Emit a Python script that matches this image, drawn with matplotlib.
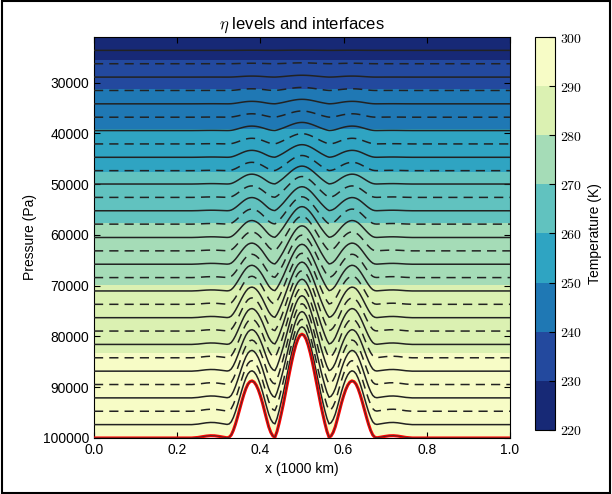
import matplotlib
matplotlib.use("Agg")
import matplotlib.pyplot as plt
import numpy as np
from matplotlib.patches import Rectangle

plt.rcParams['font.family'] = ['Liberation Sans', 'DejaVu Sans']
plt.rcParams['mathtext.fontset'] = 'cm'

# model top / surface pressure (Pa)
p_top = 21000.0
p0 = 100000.0

# terrain: distance from mountain centre (x=0.5) and pressure drop below p0
d_half = [0.000, 0.005, 0.010, 0.015, 0.020, 0.025, 0.030, 0.035, 0.040, 0.045,
          0.050, 0.055, 0.060, 0.065, 0.070, 0.075, 0.080, 0.085, 0.090, 0.095,
          0.100, 0.105, 0.110, 0.115, 0.120, 0.125, 0.130, 0.135, 0.140, 0.145,
          0.150, 0.155, 0.160, 0.165, 0.170, 0.175, 0.180, 0.190, 0.200, 0.210,
          0.220, 0.230, 0.240, 0.250, 0.265]
drop = [20450, 20200, 19450, 18250, 16700, 14900, 12900, 10800, 8700, 6600,
        4700, 2900, 1300, 150, 400, 1100, 2200, 3700, 5300, 6900,
        8300, 9500, 10400, 11000, 11250, 11100, 10600, 9700, 8500, 7100,
        5600, 4100, 2700, 1500, 600, 150, 40, 180, 320, 430,
        450, 380, 250, 110, 0]

# terrain-following weight of each half level (top -> bottom), 31 half levels
b_coef = [0.0, 0.0026, 0.0087, 0.0178, 0.0294, 0.0434, 0.0598, 0.0784, 0.0990, 0.1216,
          0.1462, 0.1728, 0.2012, 0.2315, 0.2635, 0.2973, 0.3329, 0.3701, 0.4091, 0.4496,
          0.4918, 0.5357, 0.5811, 0.6282, 0.6767, 0.7268, 0.7784, 0.8316, 0.8862, 0.9424,
          1.0]

# temperature bands: pressure where each band edge sits
temp_p = [21000, 25580, 31160, 39050, 47530, 57590, 69820, 83235, 100000]
temp_T = [226, 230, 240, 250, 260, 270, 280, 290, 297]
t_levels = [220, 230, 240, 250, 260, 270, 280, 290, 300]

d = np.array(d_half)
dp = np.array(drop, dtype=float)
x = np.concatenate([[0.0], 0.5 - d[::-1], 0.5 + d[1:], [1.0]])
ps = p0 - np.concatenate([[0.0], dp[::-1], dp[1:], [0.0]])

fig = plt.figure(figsize=(6.12, 4.94), dpi=100)
ax = fig.add_axes([0.1536, 0.1134, 0.6797, 0.8117])
cax = fig.add_axes([0.8742, 0.1296, 0.0327, 0.7955])

Z = np.tile(np.array(temp_T, dtype=float)[:, None], (1, 2))
cf = ax.contourf([0, 1], temp_p, Z, levels=t_levels, cmap='YlGnBu_r')

ax.fill_between(x, ps, p0, color='white', zorder=2)

nh = len(b_coef) - 1
for j, b in enumerate(b_coef):
    s = j / nh
    p = p_top + s * (p0 - p_top) - b * (p0 - ps)
    if j % 2 == 1:
        ax.plot(x, p, color='#222222', lw=1.1, zorder=3)
    elif 0 < j < nh:
        ax.plot(x, p, color='#222222', lw=1.1, dashes=(6, 4), zorder=3)

ax.plot(x, ps, color='red', lw=2.2, zorder=4)
ax.plot(x, ps, color='#333333', lw=0.6, zorder=5)

ax.set_xlim(0, 1)
ax.set_ylim(p0, p_top)
ax.set_xticks([0.0, 0.2, 0.4, 0.6, 0.8, 1.0])
ax.set_yticks([30000, 40000, 50000, 60000, 70000, 80000, 90000, 100000])
ax.tick_params(direction='in', top=True, right=True, labelsize=10, length=4)
ax.set_xlabel('x (1000 km)', fontsize=10)
ax.set_ylabel('Pressure (Pa)', fontsize=10)
ax.set_title(r'$\eta$ levels and interfaces', fontsize=12)

cb = fig.colorbar(cf, cax=cax, ticks=t_levels)
cb.ax.set_yticklabels([r'$%d$' % t for t in t_levels])
cb.ax.tick_params(direction='in', labelsize=10, length=4)
cb.set_label('Temperature (K)', fontsize=10)

fig.patches.append(Rectangle((0.003, 0.003), 0.994, 0.994, transform=fig.transFigure,
                             fill=False, lw=1.5, edgecolor='black'))

fig.savefig('out.png', dpi=100)
